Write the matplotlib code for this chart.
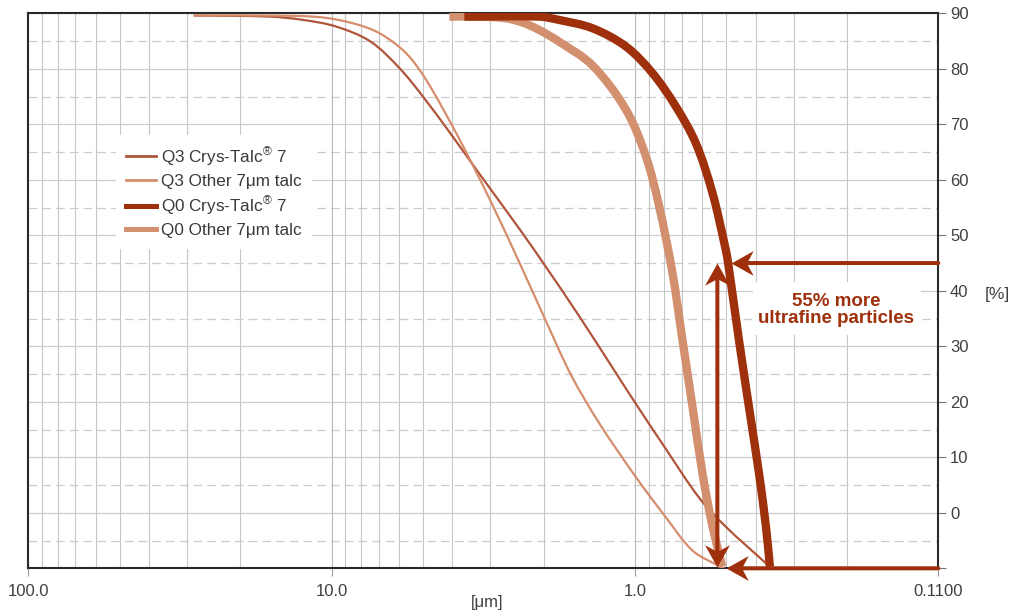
import numpy as np
import matplotlib
matplotlib.use("Agg")
import matplotlib.pyplot as plt
from matplotlib.ticker import LogLocator, NullFormatter
from matplotlib.lines import Line2D
from matplotlib.patches import Rectangle, PathPatch
from matplotlib.path import Path

plt.rcParams['font.family'] = ['Liberation Sans', 'DejaVu Sans']
plt.rcParams['mathtext.fontset'] = 'custom'
plt.rcParams['mathtext.rm'] = 'Liberation Sans'
plt.rcParams['mathtext.it'] = 'Liberation Sans'

# ---------------- data (particle size in µm, cumulative %) ----------------
q3_crys_d = [28.5, 16.0, 12.4, 9.65, 7.44, 5.97, 5.00, 3.99, 3.26, 2.40,
             1.96, 1.53, 1.14, 1.02, 0.791, 0.614, 0.502, 0.370, 0.356]
q3_crys_v = [89.6, 89.4, 88.8, 87.6, 84.9, 80.1, 75.0, 67.8, 61.1, 51.1,
             44.2, 35.5, 24.7, 20.6, 11.5, 2.7, -2.5, -9.1, -10.0]

q3_other_d = [28.5, 16.0, 10.95, 8.51, 6.95, 5.68, 4.88, 3.99, 3.43, 2.94,
              2.40, 1.96, 1.62, 1.31, 0.992, 0.791, 0.646, 0.528, 0.508]
q3_other_v = [89.6, 89.6, 89.3, 88.2, 86.4, 82.8, 78.0, 69.6, 62.7, 55.3,
              45.0, 34.4, 24.7, 16.1, 6.4, -0.8, -6.8, -9.6, -10.0]

q0_other_d = [4.09, 3.26, 2.66, 2.34, 2.07, 1.78, 1.38, 1.07, 0.920, 0.832,
              0.752, 0.697, 0.646, 0.599, 0.555, 0.515]
q0_other_v = [89.4, 89.4, 89.1, 88.3, 87.0, 84.9, 80.6, 72.6, 64.2, 55.2,
              43.2, 31.1, 19.1, 7.1, -2.5, -9.7]

q0_crys_d = [3.65, 2.07, 1.78, 1.38, 1.07, 0.875, 0.733, 0.630, 0.555, 0.502,
             0.493, 0.454, 0.421, 0.390, 0.370, 0.359]
q0_crys_v = [89.4, 89.4, 88.8, 87.3, 84.0, 79.2, 73.2, 66.6, 57.6, 47.4,
             45.0, 31.1, 19.1, 7.1, -2.5, -9.7]

legend_labels = ['Q3 Crys-Talc$^{\u00ae}$ 7', 'Q3 Other 7\u03bcm talc',
                 'Q0 Crys-Talc$^{\u00ae}$ 7', 'Q0 Other 7\u03bcm talc']

x_ticks = [100, 10, 1, 0.1]
x_tick_labels = ['100.0', '10.0', '1.0', '0.1100']
y_ticks = list(range(-10, 91, 10))
y_tick_labels = [''] + [str(v) for v in range(0, 91, 10)]

# annotation arrows: (tip, tail) in (size µm, %)
arrow_h_top = ((0.483, 45), (0.1, 45))
arrow_h_bottom = ((0.50, -10), (0.1, -10))
arrow_v_up = ((0.535, 45), (0.535, -9.8))
arrow_v_down = ((0.535, -9.8), (0.535, 45))
note_lines = ['55% more', 'ultrafine particles']

# ---------------- styling ----------------
DARK = '#9e300c'
LIGHT = '#d3906f'
Q3DARK = '#b0553a'
Q3LIGHT = '#d68d6b'
TXT = '#404040'


def smooth_path(xd, yv, sx=303.7, sy=5.55):
    """Smooth Bezier path through the read points (log-x data space)."""
    P = np.column_stack([np.log10(np.asarray(xd, float)) * sx,
                         np.asarray(yv, float) * sy])
    n = len(P)
    D = np.zeros_like(P)
    for i in range(n):
        if i == 0:
            d = P[1] - P[0]
        elif i == n - 1:
            d = P[-1] - P[-2]
        else:
            d = P[i + 1] - P[i - 1]
        D[i] = d / np.hypot(*d)
    verts = [P[0]]
    codes = [Path.MOVETO]
    for i in range(n - 1):
        L = np.hypot(*(P[i + 1] - P[i]))
        verts += [P[i] + D[i] * L / 3, P[i + 1] - D[i + 1] * L / 3, P[i + 1]]
        codes += [Path.CURVE4] * 3
    V = np.array(verts)
    V = np.column_stack([10 ** (V[:, 0] / sx), V[:, 1] / sy])
    return Path(V, codes)


def head_marker(direction):
    """Stealth-style arrow head with its tip at the marker origin."""
    base = [(0, 0), (1, 0.56), (0.7, 0), (1, -0.56), (0, 0)]  # points left
    if direction == 'left':
        v = base
    elif direction == 'up':
        v = [(-y, -x) for x, y in base]
    else:  # down
        v = [(y, x) for x, y in base]
    codes = [Path.MOVETO, Path.LINETO, Path.LINETO, Path.LINETO, Path.CLOSEPOLY]
    return Path(v, codes)


fig = plt.figure(figsize=(10.1, 6.12), dpi=100)
ax = fig.add_axes([0.0280, 0.0714, 0.9010, 0.9069])
ax.set_xscale('log')
ax.set_xlim(100, 0.1)
ax.set_ylim(-10, 90)

series = [(q3_crys_d, q3_crys_v, Q3DARK, 1.6, 3),
          (q3_other_d, q3_other_v, Q3LIGHT, 1.6, 3),
          (q0_other_d, q0_other_v, LIGHT, 6, 4),
          (q0_crys_d, q0_crys_v, DARK, 6, 5)]
for xd, yv, col, lw, z in series:
    pp = PathPatch(smooth_path(xd, yv), facecolor='none', edgecolor=col,
                   lw=lw, capstyle='butt', joinstyle='round', zorder=z)
    ax.add_patch(pp)

# ticks
ax.set_xticks(x_ticks)
ax.set_xticklabels(x_tick_labels)
ax.xaxis.set_minor_locator(LogLocator(base=10, subs=np.arange(2, 10)))
ax.xaxis.set_minor_formatter(NullFormatter())
ax.yaxis.tick_right()
ax.set_yticks(y_ticks)
ax.set_yticklabels(y_tick_labels)
ax.set_yticks(list(range(-5, 90, 10)), minor=True)
ax.set_xlim(100, 0.1)
ax.set_ylim(-10, 90)

ax.tick_params(axis='both', which='minor', length=0)
ax.tick_params(axis='x', which='major', length=6, width=0.8, color='#9a9a9a',
               pad=5, labelsize=12, labelcolor=TXT)
ax.tick_params(axis='y', which='major', length=6, width=0.8, color='#777777',
               pad=2.5, labelsize=12, labelcolor=TXT, right=True, left=False)

# grid
ax.set_axisbelow(True)
ax.grid(True, which='major', axis='x', color='#b8b8b8', lw=0.8)
ax.grid(True, which='minor', axis='x', color='#c6c6c6', lw=0.8)
ax.grid(True, which='major', axis='y', color='#cccccc', lw=0.9)
ax.grid(True, which='minor', axis='y', color='#cccccc', lw=0.9, ls=(0, (7, 4)))

for s in ax.spines.values():
    s.set_color('#2a2a2a')
    s.set_linewidth(1.5)

# legend
handles = [Line2D([], [], color=Q3DARK, lw=2),
           Line2D([], [], color=Q3LIGHT, lw=2),
           Line2D([], [], color=DARK, lw=3.6),
           Line2D([], [], color=LIGHT, lw=3.6)]
leg = ax.legend(handles, legend_labels, loc='upper left',
                bbox_to_anchor=(0.0964, 0.7814), borderaxespad=0,
                frameon=True, fancybox=False, framealpha=1, edgecolor='none',
                facecolor='white', fontsize=12.3, handlelength=1.75,
                handletextpad=0.3, labelspacing=0.35, borderpad=0.6)
leg.set_zorder(6)
for t in leg.get_texts():
    t.set_color('#3a3a3a')

# arrows: shafts (stop short of the tips) + stealth heads
shaft = dict(arrowstyle='-', color=DARK, lw=2.9, shrinkA=0, shrinkB=8)
ax.annotate('', xy=arrow_h_top[0], xytext=arrow_h_top[1], arrowprops=shaft, zorder=7)
ax.annotate('', xy=arrow_h_bottom[0], xytext=arrow_h_bottom[1], arrowprops=shaft, zorder=7)
vshaft = dict(shaft)
vshaft['shrinkA'] = 8
ax.annotate('', xy=arrow_v_up[0], xytext=arrow_v_up[1], arrowprops=vshaft, zorder=7)

heads = [(arrow_h_top[0], 'left'), (arrow_h_bottom[0], 'left'),
         (arrow_v_up[0], 'up'), (arrow_v_down[0], 'down')]
for (hx, hy), dr in heads:
    ax.plot([hx], [hy], ls='none', marker=head_marker(dr), ms=32,
            color=DARK, mew=0, clip_on=False, zorder=8)

# note with white box
ax.add_patch(Rectangle((0.7964, 0.4204), 0.1846, 0.0955, transform=ax.transAxes,
                       facecolor='white', edgecolor='none', zorder=1))
ax.text(0.8879, 0.4726, note_lines[0], transform=ax.transAxes, ha='center',
        va='baseline', fontsize=13.5, fontweight='bold', color=DARK, zorder=8)
ax.text(0.8879, 0.4414, note_lines[1], transform=ax.transAxes, ha='center',
        va='baseline', fontsize=13.5, fontweight='bold', color=DARK, zorder=8)

fig.text(0.4822, 0.0163, '[\u03bcm]', ha='center', va='center', fontsize=12, color=TXT)
fig.text(0.9871, 0.518, '[%]', ha='center', va='center', fontsize=12.5, color=TXT)

fig.savefig('out.png', dpi=100, facecolor='white')
